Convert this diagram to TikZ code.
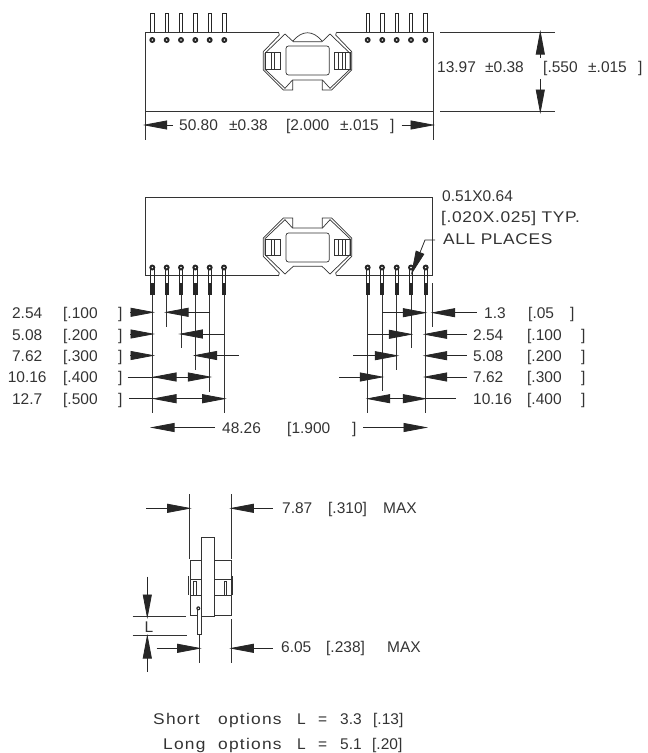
\documentclass[tikz,border=0pt]{standalone}
\usepackage{fontspec}
\setmainfont{Liberation Sans}
\usetikzlibrary{arrows.meta}

% one pin seen from the top and from the bottom edge
\newcommand{\toppin}[1]{
    \draw[pinline] (#1-1.8,32) -- (#1-1.8,13) -- (#1+1.8,13) -- (#1+1.8,32);
    \fill[holefill] (#1,40) circle (3);
    \fill[white] (#1,40) circle (0.8);
}
\newcommand{\lowpin}[1]{
    \draw[pinline] (#1-1.8,295) -- (#1-1.8,267) -- (#1+1.8,267) -- (#1+1.8,295);
    \fill[holefill] (#1-1.8,283) rectangle (#1+1.8,295);
    \fill[holefill] (#1,267.5) circle (3);
    \fill[white] (#1,267.5) circle (0.8);
}
% the clip in the middle of the connector
\newcommand{\clipbody}{
    \draw[partline] (285,34) -- (293.3,41.7) -- (322,41.7) -- (330,34) -- (350,53.3) -- (350,69.3) -- (330,88.3) -- (322.5,80) -- (292.5,80) -- (285,88.3) -- (265,69.3) -- (265,53.3) -- cycle;
    \draw[partline] (278.5,32) -- (279.3,35) -- (263.3,51.7) -- (263.3,70) -- (283.3,90) -- (292.7,90) -- (292.7,80);
    \draw[partline] (336.5,32) -- (335.7,35) -- (351.7,51.7) -- (351.7,70) -- (331.7,90) -- (322.3,90) -- (322.3,80);
    \draw[partline, rounded corners=2.5] (286,46) rectangle (329.3,75);
    \draw[partline] (265.5,52.7) rectangle (280.7,69);
    \draw[partline] (271,52.7) -- (271,69);
    \draw[partline] (274.5,52.7) -- (274.5,69);
    \draw[partline] (334,52.7) rectangle (350,69);
    \draw[partline] (338.5,52.7) -- (338.5,69);
    \draw[partline] (342,52.7) -- (342,69);
    \draw[partline] (345.5,52.7) -- (345.5,69);
}
\newcommand{\leftrow}[2]{\makebox[54pt][c]{#1}\hspace{9pt}\makebox[55pt][l]{[#2}]}
\newcommand{\rightrow}[2]{\makebox[54pt][l]{#1}\makebox[54pt][l]{[#2}]}
\newcommand{\noteface}{\addfontfeature{FakeStretch=1.12,LetterSpace=4}}
\newcommand{\wordface}{\addfontfeature{FakeStretch=1.12,LetterSpace=8}}

\begin{document}
\begin{tikzpicture}[x=1pt,y=-1pt]
        % Define styles
        \tikzset{
            pinline/.style={draw=black!85, line width=0.8pt},
            holefill/.style={fill=black!85},
            partline/.style={draw=black!80, line width=0.7pt},
            extline/.style={draw=black!80, line width=0.8pt},
            dimline/.style={draw=black!85, line width=0.8pt, -{Triangle[length=24.5pt,width=9pt]}},
            dimtext/.style={anchor=base west, inner sep=0pt, text=black!80, font=\fontsize{15.5}{17}\selectfont}
        }
        \useasboundingbox (0,0) rectangle (648,753);

        % Top view
        \draw[partline] (278.5,32) -- (145,32) -- (145,111) -- (433,111) -- (433,32) -- (336.5,32);
        \draw[partline] (293,41) .. controls (302,30) and (313,30) .. (322,41);
        \clipbody
        \toppin{152.3} \toppin{166.7} \toppin{181} \toppin{195.3} \toppin{209.7} \toppin{224.3}
        \toppin{367.7} \toppin{382.3} \toppin{396.7} \toppin{411} \toppin{425.3}

        % Top view dimensions
        \draw[extline] (440,32) -- (555,32);
        \draw[extline] (440,111) -- (555,111);
        \draw[extline] (145,111) -- (145,140);
        \draw[extline] (433,111) -- (433,140);
        \draw[dimline] (540.3,58) -- (540.3,30);
        \draw[dimline] (540.3,79.3) -- (540.3,114);
        \draw[dimline] (173,125) -- (142.7,125);
        \draw[dimline] (401.7,125) -- (435,125);
        \node[dimtext] (height_label) at (437,72.7) {\makebox[48pt][l]{13.97}\makebox[58pt][l]{±0.38}\makebox[45pt][l]{[.550}\makebox[50pt][l]{±.015}]};
        \node[dimtext] (width_label) at (179,130) {\makebox[50pt][l]{50.80}\makebox[57pt][l]{±0.38}\makebox[54pt][l]{[2.000}\makebox[50pt][l]{±.015}]};

        % Bottom view
        \draw[partline] (278.5,275.5) -- (145,275.5) -- (145,197) -- (432.5,197) -- (432.5,275.5) -- (336.5,275.5);
        \begin{scope}[shift={(0,308)}, yscale=-1]
            \clipbody
        \end{scope}
        \lowpin{152.3} \lowpin{166.7} \lowpin{181} \lowpin{195.3} \lowpin{209.7} \lowpin{224}
        \lowpin{367.7} \lowpin{382} \lowpin{396.7} \lowpin{411} \lowpin{425.7}

        % Bottom view extension lines
        \draw[extline] (152.3,295) -- (152.3,412.7);
        \draw[extline] (166.7,295) -- (166.7,326.7);
        \draw[extline] (181,295) -- (181,348);
        \draw[extline] (195.3,295) -- (195.3,370);
        \draw[extline] (209.7,295) -- (209.7,391.7);
        \draw[extline] (224,295) -- (224,412.7);
        \draw[extline] (367.7,295) -- (367.7,413.3);
        \draw[extline] (382,295) -- (382,391);
        \draw[extline] (396.7,295) -- (396.7,370);
        \draw[extline] (411,295) -- (411,348);
        \draw[extline] (425.7,295) -- (425.7,413.3);
        \draw[extline] (432.3,283) -- (432.3,326.7);

        % Left pitch dimensions
        \draw[dimline] (130,312.3) -- (155,312.3);
        \draw[dimline] (210,312.3) -- (164,312.3);
        \draw[dimline] (130,334) -- (155,334);
        \draw[dimline] (224,334) -- (178.3,334);
        \draw[dimline] (130,355.5) -- (155,355.5);
        \draw[dimline] (238.7,355.5) -- (192.7,355.5);
        \draw[dimline] (127.7,377) -- (212.3,377);
        \draw[dimline] (182,377) -- (152,377);
        \draw[dimline] (129,398.7) -- (226.7,398.7);
        \draw[dimline] (182,398.7) -- (152,398.7);
        \node[dimtext] (left_label_1) at (0,318.3) {\leftrow{2.54}{.100}};
        \node[dimtext] (left_label_2) at (0,340) {\leftrow{5.08}{.200}};
        \node[dimtext] (left_label_3) at (0,361) {\leftrow{7.62}{.300}};
        \node[dimtext] (left_label_4) at (0,382.7) {\leftrow{10.16}{.400}};
        \node[dimtext] (left_label_5) at (0,404.3) {\leftrow{12.7}{.500}};

        % Right pitch dimensions
        \draw[dimline] (382,312.7) -- (427.3,312.7);
        \draw[dimline] (476.7,312.7) -- (430.7,312.7);
        \draw[dimline] (367.7,334.3) -- (413.3,334.3);
        \draw[dimline] (466.7,334.3) -- (422.7,334.3);
        \draw[dimline] (353.3,355.7) -- (399.3,355.7);
        \draw[dimline] (466.7,355.7) -- (422.7,355.7);
        \draw[dimline] (339.3,377) -- (384.3,377);
        \draw[dimline] (466.7,377) -- (422.7,377);
        \draw[dimline] (455.7,398.7) -- (365.7,398.7);
        \draw[dimline] (395,398.7) -- (427.3,398.7);
        \node[dimtext] (right_label_1) at (484,318.3) {\makebox[44pt][l]{1.3}\makebox[42pt][l]{[.05}]};
        \node[dimtext] (right_label_2) at (473,340) {\rightrow{2.54}{.100}};
        \node[dimtext] (right_label_3) at (473,361.7) {\rightrow{5.08}{.200}};
        \node[dimtext] (right_label_4) at (473,382.7) {\rightrow{7.62}{.300}};
        \node[dimtext] (right_label_5) at (473,404.3) {\rightrow{10.16}{.400}};

        % Overall pin span
        \draw[dimline] (215,427.5) -- (150,427.5);
        \draw[dimline] (363,427.5) -- (428,427.5);
        \node[dimtext] (span_label) at (222,433.3) {\makebox[65pt][l]{48.26}\makebox[65pt][l]{[1.900}]};

        % Pin size note
        \coordinate (note_end) at (435,240);
        \coordinate (note_bend) at (425,240);
        \coordinate (note_tip) at (411,275);
        \draw[dimline] (note_end) -- (note_bend) -- (note_tip);
        \node[dimtext] (note_line_1) at (442,201) {0.51X0.64};
        \node[dimtext] (note_line_2) at (441,222.3) {\noteface [.020X.025] TYP.};
        \node[dimtext] (note_line_3) at (443,244) {\noteface ALL PLACES};

        % Side view
        \draw[partline] (190,560.7) rectangle (231,615);
        \draw[partline] (190,579) -- (231,579);
        \draw[partline] (190,595) -- (231,595);
        \draw[partline] (188.5,576) -- (188.5,595);
        \draw[partline] (232.5,576) -- (232.5,595);
        \draw[partline] (193.3,581.5) rectangle (196,595);
        \draw[partline] (224,581.5) rectangle (226.7,595);
        \draw[partline, fill=white] (201.7,537.3) rectangle (214,616.7);
        \draw[partline, fill=white] (197.7,608.3) -- (197.7,634) -- (201,634) -- (201,608.3);
        \fill[holefill] (198.3,608.3) circle (2);
        \fill[white] (198.3,608.3) circle (0.7);

        % Side view dimensions
        \draw[extline] (189.3,494) -- (189.3,559);
        \draw[extline] (231.7,494) -- (231.7,559);
        \draw[extline] (199.3,635) -- (199.3,662.7);
        \draw[extline] (231.7,619.3) -- (231.7,662.7);
        \draw[extline] (132.7,616.7) -- (186,616.7);
        \draw[extline] (132.7,635.3) -- (186.7,635.3);
        \draw[dimline] (146,508.3) -- (191.7,508.3);
        \draw[dimline] (272.7,508.3) -- (229.3,508.3);
        \draw[dimline] (156.7,648.3) -- (201.7,648.3);
        \draw[dimline] (272.7,648.3) -- (229.3,648.3);
        \draw[dimline] (147.3,576.7) -- (147.3,619);
        \draw[dimline] (147.3,671.7) -- (147.3,634);
        \node[dimtext] (lead_label) at (144.5,632.5) {L};
        \node[dimtext] (max_label) at (282,513.3) {\makebox[46pt][l]{7.87}\makebox[55pt][l]{[.310]}MAX};
        \node[dimtext] (pin_label) at (281,652.3) {\makebox[45pt][l]{6.05}\makebox[61pt][l]{[.238]}MAX};

        % Footnote
        \node[dimtext] (short_label) at (153,724) {\makebox[65pt][l]{\wordface Short}\makebox[79pt][l]{\wordface options}\makebox[21pt][l]{L}\makebox[22pt][l]{=}\makebox[33pt][l]{3.3}[.13]};
        \node[dimtext] (long_label) at (163,749) {\makebox[55pt][l]{\wordface Long}\makebox[79pt][l]{\wordface options}\makebox[21pt][l]{L}\makebox[22pt][l]{=}\makebox[32pt][l]{5.1}[.20]};
    \end{tikzpicture}
\end{document}
